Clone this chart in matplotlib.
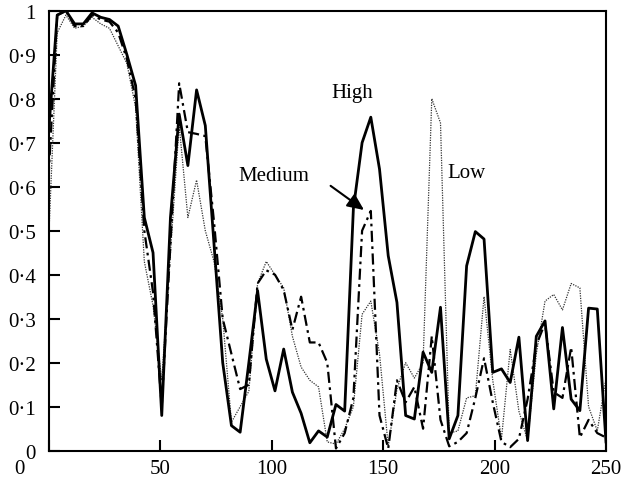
import numpy as np
import matplotlib
matplotlib.use("Agg")
import matplotlib.pyplot as plt
import matplotlib.transforms as mtransforms
from matplotlib.ticker import FixedLocator

# x positions: 65 samples from 0 to 250
x_start, x_end, n_pts = 0, 250, 65
x = np.linspace(x_start, x_end, n_pts)

high = [0.72, 0.99, 1.00, 0.97, 0.97, 0.995, 0.985, 0.98, 0.965, 0.90,
        0.83, 0.53, 0.45, 0.08, 0.53, 0.765, 0.648, 0.82, 0.739, 0.47,
        0.20, 0.057, 0.042, 0.20, 0.364, 0.208, 0.136, 0.231, 0.133, 0.085,
        0.018, 0.045, 0.031, 0.105, 0.09, 0.55, 0.70, 0.758, 0.64, 0.443,
        0.337, 0.08, 0.072, 0.224, 0.178, 0.326, 0.027, 0.08, 0.42, 0.498,
        0.481, 0.178, 0.186, 0.155, 0.258, 0.023, 0.26, 0.295, 0.095, 0.28,
        0.117, 0.091, 0.324, 0.322, 0.02]

medium = [0.62, 0.99, 1.00, 0.965, 0.965, 0.99, 0.98, 0.975, 0.95, 0.89,
          0.80, 0.50, 0.36, 0.10, 0.47, 0.835, 0.724, 0.72, 0.715, 0.52,
          0.30, 0.22, 0.14, 0.15, 0.38, 0.41, 0.40, 0.365, 0.275, 0.35,
          0.246, 0.246, 0.20, 0.005, 0.04, 0.12, 0.50, 0.545, 0.08, 0.005,
          0.16, 0.11, 0.145, 0.05, 0.26, 0.07, 0.01, 0.02, 0.04, 0.12,
          0.21, 0.11, 0.02, 0.008, 0.027, 0.117, 0.24, 0.29, 0.133, 0.12,
          0.235, 0.03, 0.07, 0.04, 0.03]

low = [0.47, 0.95, 0.99, 0.96, 0.965, 0.985, 0.97, 0.96, 0.92, 0.88,
       0.78, 0.43, 0.33, 0.16, 0.45, 0.74, 0.53, 0.615, 0.50, 0.43,
       0.30, 0.065, 0.10, 0.135, 0.38, 0.43, 0.40, 0.37, 0.26, 0.19,
       0.16, 0.145, 0.02, 0.015, 0.05, 0.10, 0.31, 0.34, 0.22, 0.01,
       0.14, 0.20, 0.165, 0.20, 0.80, 0.745, 0.04, 0.045, 0.12, 0.125,
       0.35, 0.16, 0.027, 0.23, 0.09, 0.023, 0.22, 0.34, 0.355, 0.32,
       0.38, 0.37, 0.10, 0.045, 0.165]

x_ticks = [0, 50, 100, 150, 200, 250]
y_ticks = [0, 0.1, 0.2, 0.3, 0.4, 0.5, 0.6, 0.7, 0.8, 0.9, 1.0]
y_tick_labels = ["0", "0·1", "0·2", "0·3", "0·4", "0·5", "0·6", "0·7", "0·8", "0·9", "1"]

plt.rcParams['font.family'] = ['Liberation Serif', 'DejaVu Serif']

fig = plt.figure(figsize=(6.25, 4.85), dpi=100)
ax = fig.add_axes([48.5 / 625, 33.3 / 485, (606 - 48.5) / 625, (473.3 - 33.3) / 485])

ax.plot(x, low, color='#333333', lw=0.9, linestyle=(0, (1, 1)))
ax.plot(x, medium, color='black', lw=1.6, linestyle=(0, (5, 2, 1.2, 2)))
ax.plot(x, high, color='black', lw=2.0, linestyle='-')

ax.set_xlim(0, 250)
ax.set_ylim(0, 1)
ax.xaxis.set_major_locator(FixedLocator(x_ticks))
ax.yaxis.set_major_locator(FixedLocator(y_ticks))
ax.set_yticklabels(y_tick_labels)
ax.set_xticklabels([str(v) for v in x_ticks])

ax.tick_params(axis='both', direction='in', length=8, width=1.5, labelsize=15,
               top=False, right=False)
ax.tick_params(axis='x', pad=6)
ax.tick_params(axis='y', pad=9)
for s in ax.spines.values():
    s.set_linewidth(1.5)

# shift the x "0" label left as in reference
fig.canvas.draw()
lbl0 = ax.get_xticklabels()[0]
offset = mtransforms.ScaledTranslation(-29 / 100, 0, fig.dpi_scale_trans)
lbl0.set_transform(lbl0.get_transform() + offset)

ax.text(136.3, 0.813, "High", ha='center', va='center', fontsize=15)
ax.text(101.1, 0.625, "Medium", ha='center', va='center', fontsize=15)
ax.text(187.3, 0.633, "Low", ha='center', va='center', fontsize=15)
ax.annotate("", xy=(141.5, 0.547), xytext=(126.5, 0.602),
            arrowprops=dict(arrowstyle='-|>,head_length=1.0,head_width=0.45',
                            color='black', lw=1.5, shrinkA=0, shrinkB=0))

fig.savefig("out.png", dpi=100)
